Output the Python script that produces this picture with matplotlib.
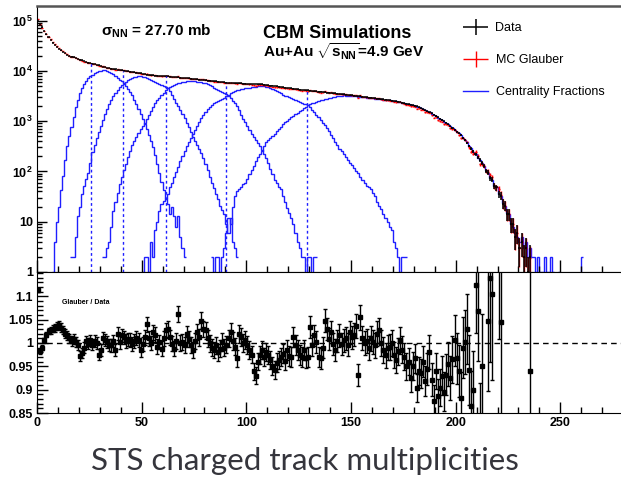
import numpy as np
import matplotlib.pyplot as plt
from matplotlib.ticker import MultipleLocator, FixedLocator, LogLocator, FuncFormatter, NullFormatter
from matplotlib.lines import Line2D
from matplotlib.legend_handler import HandlerErrorbar

plt.rcParams['font.family'] = ['Liberation Sans', 'DejaVu Sans']
plt.rcParams['mathtext.fontset'] = 'custom'
plt.rcParams['mathtext.rm'] = 'Liberation Sans:bold'
plt.rcParams['mathtext.it'] = 'Liberation Sans:bold'
plt.rcParams['mathtext.bf'] = 'Liberation Sans:bold'

nan = np.nan

# STS charged track multiplicity, one bin per track (bins 0..235)
data_counts = [
    98000, 86000, 73000, 62000, 53000, 46500, 41000, 36500, 32500, 29500,
    27300, 25500, 24000, 22500, 21000, 20000, 19200, 18500, 17900, 17300,
    16700, 16100, 15500, 15000, 14600, 14300, 14000, 13600, 13200, 12800,
    12400, 12100, 11800, 11500, 11300, 11100, 10900, 10700, 10500, 10400,
    10250, 10150, 9950, 9800, 9650, 9500, 9350, 9200, 9050, 8900,
    8750, 8600, 8450, 8300, 8150, 8100, 8050, 8000, 7950, 7900,
    7850, 7800, 7760, 7700, 7630, 7560, 7490, 7420, 7350, 7280,
    7210, 7140, 7070, 7000, 6930, 6850, 6760, 6690, 6620, 6560,
    6490, 6420, 6360, 6290, 6220, 6150, 6090, 6020, 5950, 5880,
    5820, 5750, 5730, 5700, 5680, 5650, 5630, 5610, 5580, 5560,
    5530, 5510, 5490, 5460, 5440, 5420, 5390, 5370, 5300, 5240,
    5180, 5110, 5050, 4980, 4920, 4850, 4790, 4720, 4660, 4590,
    4530, 4460, 4400, 4330, 4270, 4230, 4190, 4150, 4110, 4070,
    4030, 3990, 3950, 3910, 3870, 3830, 3790, 3750, 3710, 3670,
    3630, 3590, 3550, 3520, 3480, 3440, 3400, 3360, 3320, 3290,
    3250, 3210, 3170, 3130, 3100, 3060, 3020, 2980, 2950, 2910,
    2880, 2840, 2800, 2770, 2730, 2700, 2660, 2630, 2590, 2560,
    2520, 2490, 2450, 2400, 2340, 2290, 2230, 2180, 2120, 2070,
    2010, 1960, 1900, 1820, 1740, 1660, 1580, 1500, 1420, 1340,
    1260, 1190, 1120, 1050, 990, 930, 860, 790, 730, 670,
    620, 570, 520, 470, 420, 370, 320, 285, 250, 220,
    190, 168, 148, 131, 103, 95, 74, 69, 52, 48,
    35, 33, 23, 21, 14, 14, 9, 9, 5, 6,
    3, 4, 2, 3, 1, 2,
]

# Glauber / Data per bin (nan where no point is shown)
glauber_ratio = [
    1.113, 0.982, 0.990, 1.006, 1.018, 1.025, 1.027, 1.030, 1.032, 1.036,
    1.039, 1.033, 1.028, 1.020, 1.016, 1.010, 1.004, 1.008, 1.002, 0.996,
    0.972, 0.978, 0.990, 1.004, 0.998, 1.006, 0.996, 1.004, 1.000, 0.975,
    0.985, 1.010, 1.006, 1.002, 0.996, 0.995, 1.004, 0.985, 1.020, 1.002,
    1.016, 1.012, 1.004, 1.008, 1.006, 0.998, 1.004, 1.010, 1.006, 0.985,
    0.998, 1.012, 1.040, 1.010, 1.000, 1.023, 1.018, 0.992, 1.002, 0.988,
    1.010, 1.027, 1.030, 1.012, 0.998, 0.988, 1.004, 1.062, 1.000, 1.002,
    0.996, 1.020, 1.008, 0.996, 0.985, 1.004, 1.023, 1.012, 1.048, 1.030,
    1.027, 1.010, 0.999, 0.990, 0.985, 0.995, 0.980, 0.988, 1.002, 0.990,
    0.996, 1.010, 1.023, 1.004, 0.992, 0.967, 1.020, 1.012, 1.000, 1.006,
    0.996, 0.985, 0.975, 0.939, 0.930, 0.960, 0.974, 0.985, 0.970, 0.980,
    0.975, 0.963, 0.950, 0.942, 0.958, 0.963, 0.970, 0.977, 0.962, 0.985,
    0.972, 0.970, 1.013, 0.995, 0.985, 0.974, 0.970, 0.985, 0.968, 0.970,
    1.034, 0.995, 1.016, 1.002, 0.970, 0.967, 0.990, 1.048, 1.030, 1.008,
    1.023, 0.998, 0.985, 1.004, 1.016, 0.998, 1.006, 1.010, 0.996, 1.023,
    1.012, 1.018, 1.037, 0.932, 1.055, 1.010, 0.999, 1.004, 0.990, 1.010,
    1.002, 0.995, 1.020, 1.027, 1.000, 0.985, 0.974, 0.990, 0.992, 1.000,
    0.975, 0.963, 0.982, 1.006, 0.985, 0.970, 0.950, 0.960, 0.925, 0.950,
    0.967, 0.904, 0.940, 0.935, 0.960, 0.918, 0.945, 0.981, 0.921, 0.875,
    0.940, 0.886, 0.904, 0.930, 0.896, 0.932, 0.955, 0.925, 0.965, 1.006,
    0.967, 0.940, 0.882, 0.990, 1.002, 1.030, 0.942, 0.865, 0.900, 1.125,
    1.069, 0.820, 0.950, nan, nan, 1.048, 1.140, 1.104, nan, nan,
    1.300, 1.044, nan, nan, nan, nan, nan, nan, nan, nan,
    nan, nan, nan, nan, nan, 0.939,
]

# centrality classes: first bin and counts per bin
class_start = [7, 16, 31, 50, 83]
class_a = [
    1, 4, 10, 20, 42, 83, 166, 316, 500, 760,
    1200, 1900, 2630, 3550, 4470, 5370, 6310, 7080, 7760, 8320,
    8910, 9330, 9770, 10000, 10230, 10230, 10000, 9550, 9120, 8510,
    7940, 7240, 6610, 6170, 5620, 5010, 4370, 3800, 3240, 2690,
    2190, 1780, 1410, 1120, 890, 690, 525, 400, 300, 210,
    141, 95, 63, 42, 30, 23, 14, 20, 13, 8,
    13, 5, 3, 2,
]
class_b = [
    2, 2, 5, 13, 20, 35, 52, 72, 95, 150,
    240, 340, 460, 600, 800, 1050, 1380, 1750, 2150, 2600,
    3100, 3650, 4200, 4750, 5200, 5600, 6050, 6600, 7000, 7350,
    7550, 7700, 7760, 7760, 7590, 7410, 7240, 6920, 6610, 6310,
    6030, 5750, 5500, 5250, 5010, 4790, 4470, 3890, 3310, 2820,
    2340, 2000, 1700, 1410, 1150, 930, 760, 620, 490, 410,
    330, 275, 230, 186, 141, 105, 79, 60, 46, 35,
    28, 21, 17, 14, 9, 6, 12, 4, 3, 2,
]
class_c = [
    2, 2, 3, 4, 8, 16, 25, 38, 56, 76,
    105, 141, 191, 251, 331, 398, 479, 575, 692, 813,
    933, 1120, 1350, 1585, 1905, 2290, 2630, 2950, 3310, 3630,
    4070, 4470, 4680, 4900, 5130, 5370, 5620, 5750, 5890, 6030,
    6170, 6310, 6310, 6310, 6170, 6030, 6030, 5890, 5750, 5620,
    5370, 5130, 4900, 4570, 4370, 4170, 3980, 3800, 3630, 3390,
    3160, 2880, 2570, 2290, 2000, 1660, 1350, 1120, 955, 794,
    676, 562, 490, 427, 372, 324, 269, 224, 182, 145,
    112, 89, 69, 59, 50, 44, 33, 25, 19, 15,
    12, 9, 6, 4, 3, 2, 2, 0, 2, 2,
    0, 2, 2,
]
class_d = [
    1, 2, 2, 1, 4, 2, 7, 10, 16, 22,
    26, 30, 36, 48, 60, 76, 98, 123, 158, 204,
    257, 316, 389, 468, 550, 661, 794, 955, 1148, 1318,
    1514, 1738, 1950, 2138, 2291, 2399, 2512, 2630, 2754, 2951,
    3162, 3311, 3631, 3802, 3981, 4074, 4169, 4266, 4365, 4467,
    4571, 4571, 4677, 4786, 4786, 4898, 4898, 4898, 4898, 4786,
    4677, 4571, 4365, 4169, 3981, 3715, 3548, 3388, 3236, 3162,
    3020, 2884, 2754, 2692, 2570, 2455, 2344, 2239, 2188, 2089,
    1905, 1698, 1514, 1349, 1202, 1047, 933, 832, 724, 631,
    537, 457, 389, 331, 282, 251, 219, 191, 170, 148,
    132, 115, 100, 91, 79, 68, 59, 52, 48, 44,
    37, 32, 25, 21, 18, 14, 12, 10, 8, 7,
    4, 3, 2, 1, 2, 2, 2,
]
class_e = [
    2, 1, 2, 2, 1, 2, 3, 6, 12, 9,
    20, 32, 40, 45, 50, 55, 60, 72, 87, 105,
    126, 158, 191, 219, 251, 316, 380, 427, 468, 513,
    562, 631, 692, 776, 871, 955, 1023, 1096, 1202, 1288,
    1380, 1479, 1585, 1698, 1820, 1950, 2089, 2188, 2291, 2344,
    2455, 2512, 2630, 2692, 2754, 2818, 2884, 2951, 3020, 3090,
    3160, 3200, 3230, 3240, 3230, 3210, 3190, 3170, 3140, 3110,
    3080, 3050, 3020, 2980, 2950, 2920, 2880, 2850, 2820, 2780,
    2750, 2710, 2680, 2640, 2610, 2580, 2540, 2510, 2470, 2440,
    2390, 2330, 2280, 2230, 2170, 2120, 2060, 2010, 1950, 1900,
    1820, 1730, 1660, 1590, 1500, 1410, 1340, 1270, 1180, 1120,
    1060, 980, 930, 870, 790, 730, 680, 610, 570, 530,
    460, 420, 380, 320, 290, 245, 225, 185, 172, 145,
    128, 105, 95, 75, 68, 52, 48, 36, 33, 24,
    21, 15, 14, 9, 8, 6, 5, 4, 5, 3,
    4, 2, 3, 2, 2, 1, 2, 1, 1, 2,
    1, 1, 2, 1, 0, 0, 1, 0, 0, 0,
    0, 0, 0, 0, 0, 0, 0, 2,
]
class_counts = [class_a, class_b, class_c, class_d, class_e]

# multiplicity cuts between the classes
class_cuts = [25.9, 41.2, 61.8, 90.5, 128.8]

# ratio axis labels
ratio_ticks = [0.85, 0.9, 0.95, 1.0, 1.05, 1.1]

blue = '#1f1fff'

data = np.array(data_counts, dtype=float)
ratio = np.array(glauber_ratio, dtype=float)
glauber = np.where(np.isnan(ratio), data, data * ratio)
xc = np.arange(len(data)) + 0.5
ratio_err = ratio * np.sqrt(1.0 / data + 1.0 / glauber)

fig = plt.figure(figsize=(6.21, 4.79), dpi=100)
ax1 = fig.add_axes([37 / 621, 1 - 272 / 479, 1 - 37 / 621, 266 / 479])
ax2 = fig.add_axes([37 / 621, 1 - 413 / 479, 1 - 37 / 621, 141 / 479])

# upper pad: distributions
ax1.set_yscale('log', nonpositive='clip')
for start, counts in zip(class_start, class_counts):
    edges = np.arange(start, start + len(counts) + 1)
    ax1.stairs(counts, edges, color=blue, lw=1.0, baseline=None)

mc = ax1.errorbar(xc, glauber, xerr=0.5, yerr=np.sqrt(glauber), fmt='none',
                  ecolor='red', elinewidth=1.0)
dat = ax1.errorbar(xc, data, xerr=0.5, yerr=np.sqrt(data), fmt='none',
                   ecolor='black', elinewidth=1.1)

for c in class_cuts:
    ax1.vlines(c, 1, data[int(c)], colors=blue, linestyles=(0, (2, 2)), lw=1.0)

ax1.set_xlim(0, 279)
ax1.set_ylim(1, 1.95e5)
ax1.xaxis.set_major_locator(MultipleLocator(50))
ax1.xaxis.set_minor_locator(MultipleLocator(10))
ax1.yaxis.set_major_locator(LogLocator(base=10))
ax1.yaxis.set_minor_locator(LogLocator(base=10, subs=np.arange(2, 10)))


def decade(v, pos):
    if v == 1:
        return '1'
    if v == 10:
        return '10'
    return r'$10^{%d}$' % round(np.log10(v))


ax1.yaxis.set_major_formatter(FuncFormatter(decade))
ax1.yaxis.set_minor_formatter(NullFormatter())
ax1.tick_params(axis='x', which='major', direction='in', length=8.5, width=1, labelbottom=False)
ax1.tick_params(axis='x', which='minor', direction='in', length=4.3, width=1)
ax1.tick_params(axis='y', which='major', direction='in', length=7, width=1, labelsize=9, pad=3)
ax1.tick_params(axis='y', which='minor', direction='in', length=3.6, width=1)
for lab in ax1.get_yticklabels():
    lab.set_fontweight('bold')
ax1.spines['right'].set_visible(False)
ax1.spines['top'].set_color('#555555')
ax1.spines['top'].set_linewidth(1.8)

fig.text(101 / 621, 1 - 36 / 479, r'$\sigma_{NN}$ = 27.70 mb', fontsize=11, fontweight='bold', va='baseline')
fig.text(263 / 621, 1 - 38 / 479, 'CBM Simulations', fontsize=13, fontweight='bold', va='baseline')
fig.text(263 / 621, 1 - 57 / 479, r'Au+Au $\sqrt{s_{NN}}$=4.9 GeV', fontsize=11, fontweight='bold', va='baseline')

fractions = Line2D([], [], color=blue, lw=1.0)
fig.legend([dat, mc, fractions], ['Data', 'MC Glauber', 'Centrality Fractions'],
           loc='upper left', bbox_to_anchor=(463 / 621, 1 - 22 / 479), frameon=False,
           fontsize=9, handlelength=2.0, handletextpad=0.6, labelspacing=1.6,
           borderpad=0, borderaxespad=0,
           handler_map={type(dat): HandlerErrorbar(xerr_size=1.0, yerr_size=0.65)})

# lower pad: ratio
ax2.axhline(1.0, color='black', ls=(0, (4, 3)), lw=1.0)
ax2.errorbar(xc, ratio, yerr=ratio_err, fmt='s', ms=2.6, color='black',
             ecolor='black', elinewidth=1.0, capsize=1.6)
ax2.set_xlim(0, 279)
ax2.set_ylim(0.85, 1.152)
ax2.xaxis.set_major_locator(MultipleLocator(50))
ax2.xaxis.set_minor_locator(MultipleLocator(10))
ax2.yaxis.set_major_locator(FixedLocator(ratio_ticks))
ax2.yaxis.set_minor_locator(MultipleLocator(0.01))
ax2.yaxis.set_major_formatter(FuncFormatter(lambda v, p: ('%.2f' % v).rstrip('0').rstrip('.')))
ax2.tick_params(axis='both', which='major', direction='in', length=8, width=1, labelsize=9, pad=3)
ax2.tick_params(axis='both', which='minor', direction='in', length=4.3, width=1)
for lab in ax2.get_xticklabels() + ax2.get_yticklabels():
    lab.set_fontweight('bold')
ax2.spines['right'].set_visible(False)
ax2.text(62 / 621, 1 - 304 / 479, 'Glauber / Data', transform=fig.transFigure,
         fontsize=5, fontweight='bold', va='baseline')

fig.text(305 / 621, 1 - 470 / 479, 'STS charged track multiplicities', ha='center',
         va='baseline', fontsize=22.5, family=['Lato', 'DejaVu Sans'], fontweight='normal',
         color='#35353c')

fig.savefig('out.png', dpi=100)
